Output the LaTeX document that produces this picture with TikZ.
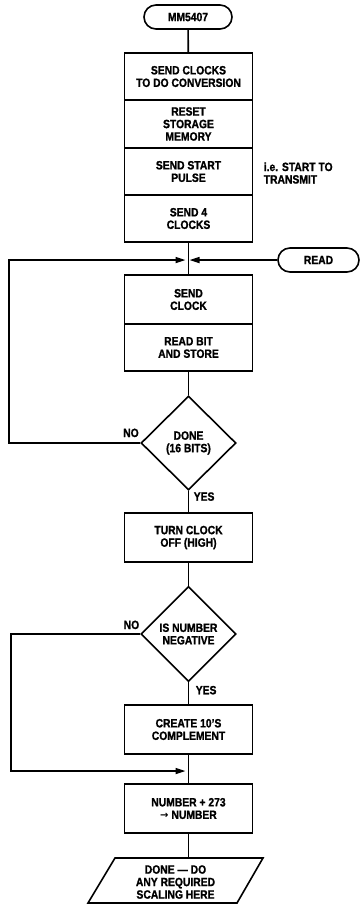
\documentclass[tikz,border=0pt]{standalone}
\usepackage{fontspec}
\setmainfont{Liberation Sans}[FakeStretch=0.86,BoldFeatures={FakeBold=1.2}]
\newfontfamily\symfont{DejaVu Sans}
\usetikzlibrary{shapes.geometric,shapes.misc,arrows.meta}
\begin{document}
\begin{tikzpicture}[x=1pt,y=-1pt,line width=1.6pt,
  font=\bfseries\fontsize{12}{12.5}\selectfont,
  box/.style={draw,rectangle,minimum width=128pt,inner sep=0pt,align=center},
  term/.style={draw,rounded rectangle,minimum height=24pt,inner sep=0pt},
  dec/.style={draw,diamond,minimum width=95pt,minimum height=94pt,inner sep=0pt,align=center},
  lbl/.style={inner sep=0pt},
  arr/.style={-{Triangle[length=10pt,width=6pt]}}]
\fill[white] (0,0) rectangle (361,905);
\useasboundingbox (0,0) rectangle (361,905);
% terminals
\node[term,minimum width=88pt] (start) at (188,17) {MM5407};
\node[term,minimum width=81pt] (read) at (318.5,260) {READ};
% first stack
\node[box,minimum height=47pt] (b1) at (188.5,76.5) {SEND CLOCKS\\TO DO CONVERSION};
\node[box,minimum height=48pt] (b2) at (188.5,124) {RESET\\STORAGE\\MEMORY};
\node[box,minimum height=47pt] (b3) at (188.5,171.5) {SEND START\\PULSE};
\node[box,minimum height=47pt] (b4) at (188.5,218.5) {SEND 4\\CLOCKS};
\node[lbl,anchor=west,align=left] (note) at (263,173) {i.e. START TO\\TRANSMIT};
\coordinate (j) at (188.5,260);
% second stack
\node[box,minimum height=49pt] (b5) at (188.5,299.5) {SEND\\CLOCK};
\node[box,minimum height=47pt] (b6) at (188.5,347.5) {READ BIT\\AND STORE};
\node[dec] (d1) at (188.5,443) {DONE\\(16 BITS)};
\node[box,minimum height=49pt] (b7) at (188.5,537.5) {TURN CLOCK\\OFF (HIGH)};
\node[dec,minimum height=95pt] (d2) at (188.5,634) {IS NUMBER\\NEGATIVE};
\node[box,minimum height=49pt] (b8) at (188.5,729.5) {CREATE 10'S\\COMPLEMENT};
\coordinate (j2) at (188.5,771);
\node[box,minimum height=49pt] (b9) at (188.5,808.5) {NUMBER + 273\\{\symfont\fontsize{10}{12.5}\selectfont →} NUMBER};
% output parallelogram
\draw (115,858) -- (263,858) -- (237,903) -- (88,903) -- cycle;
\coordinate (pgtop) at (188.5,858);
\node[lbl,align=center] (done) at (175.5,882) {DONE — DO\\ANY REQUIRED\\SCALING HERE};
% labels
\node[lbl,anchor=base east] (no1) at (139.5,437) {NO};
\node[lbl,anchor=base west] (yes1) at (193,500.7) {YES};
\node[lbl,anchor=base east] (no2) at (140,629) {NO};
\node[lbl,anchor=base west] (yes2) at (195,694.3) {YES};
% connectors
\draw (start) -- (b1);
\draw (b4) -- (b5);
\draw[arr,shorten >=3pt] (d1.west) -- ++(-131,0) |- (j);
\draw[arr,shorten >=1pt] (read) -- (j);
\draw (b6) -- (d1);
\draw (d1) -- (b7);
\draw (b7) -- (d2);
\draw (d2) -- (b8);
\draw (b8) -- (b9);
\draw[arr,shorten >=3pt] (d2.west) -- ++(-129,0) |- (j2);
\draw (b9) -- (pgtop);
\end{tikzpicture}
\end{document}
